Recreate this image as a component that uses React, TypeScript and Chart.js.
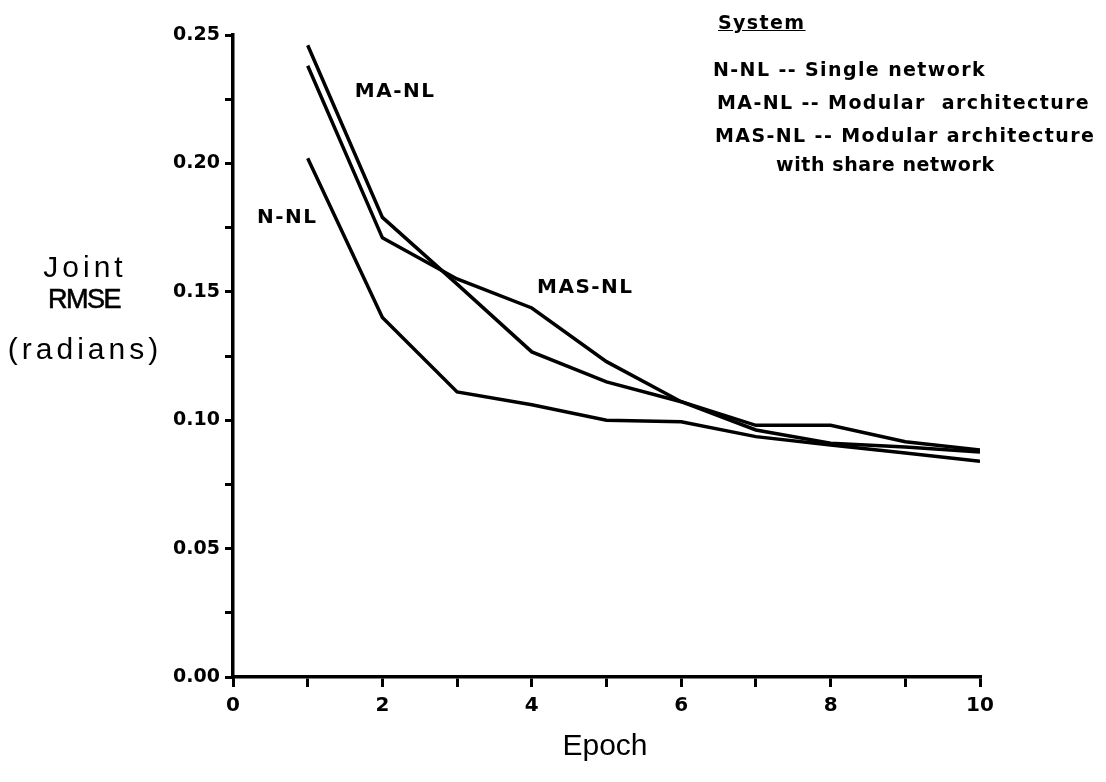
import React, { useEffect, useRef } from "react";
import { Chart, registerables } from "chart.js";

Chart.register(...registerables);

const epochs = [1, 2, 3, 4, 5, 6, 7, 8, 9, 10];
const nNL = [0.202, 0.14, 0.111, 0.106, 0.1, 0.0994, 0.0936, 0.0903, 0.0872, 0.084];
const maNL = [0.246, 0.179, 0.153, 0.1266, 0.1149, 0.1072, 0.0962, 0.091, 0.0896, 0.0876];
const masNL = [0.238, 0.171, 0.155, 0.1437, 0.1228, 0.1072, 0.098, 0.098, 0.0916, 0.0884];

const seriesNames = ["N-NL", "MA-NL", "MAS-NL"];
const seriesLabelX = [0.32, 1.63, 4.07];
const seriesLabelY = [0.179, 0.228, 0.1515];

const legendTitle = "System";
const legendLines = [
  "N-NL -- Single network",
  "MA-NL -- Modular  architecture",
  "MAS-NL -- Modular architecture",
  "with share network",
];

const xTitle = "Epoch";
const yTitleLines = ["Joint", "RMSE", "(radians)"];

const xTickFont = { family: "'DejaVu Sans'", weight: "bold" as const, size: 20 };
const yTickFont = { family: "'DejaVu Sans'", weight: "bold" as const, size: 19 };

const labelPlugin = {
  id: "seriesLabels",
  afterDatasetsDraw(chart: any) {
    const { ctx, scales } = chart;
    ctx.save();
    ctx.fillStyle = "#000";
    ctx.font = "bold 20px 'DejaVu Sans'";
    try {
      (ctx as any).letterSpacing = "1.5px";
    } catch (e) {}
    ctx.textAlign = "left";
    ctx.textBaseline = "middle";
    seriesNames.forEach((name, i) => {
      ctx.fillText(
        name,
        scales.x.getPixelForValue(seriesLabelX[i]),
        scales.y.getPixelForValue(seriesLabelY[i])
      );
    });
    ctx.restore();
  },
};

export default function App() {
  const canvasRef = useRef<HTMLCanvasElement | null>(null);

  useEffect(() => {
    if (!canvasRef.current) return;
    const mk = (arr: number[]) => epochs.map((e, i) => ({ x: e, y: arr[i] }));
    const lineStyle = {
      borderColor: "#000",
      backgroundColor: "#000",
      borderWidth: 3.5,
      pointRadius: 0,
      tension: 0,
      fill: false,
    };
    const chart = new Chart(canvasRef.current, {
      type: "line",
      data: {
        datasets: [
          { label: seriesNames[0], data: mk(nNL), ...lineStyle },
          { label: seriesNames[1], data: mk(maNL), ...lineStyle },
          { label: seriesNames[2], data: mk(masNL), ...lineStyle },
        ],
      },
      options: {
        responsive: false,
        animation: false,
        layout: { padding: { top: 35, right: 126, left: 0, bottom: 0 } },
        plugins: { legend: { display: false }, tooltip: { enabled: false } },
        scales: {
          x: {
            type: "linear",
            min: 0,
            max: 10,
            ticks: {
              stepSize: 1,
              autoSkip: false,
              maxRotation: 0,
              color: "#000",
              font: xTickFont,
              padding: 7,
              callback: (v: any) => (Number(v) % 2 === 0 ? String(v) : ""),
            },
            grid: {
              drawOnChartArea: false,
              drawTicks: true,
              tickLength: 10,
              color: "#000",
              lineWidth: 3,
            },
            border: { color: "#000", width: 3.5 },
            afterFit: (s: any) => {
              s.height = 105;
            },
          },
          y: {
            type: "linear",
            min: 0,
            max: 0.25,
            ticks: {
              stepSize: 0.025,
              autoSkip: false,
              color: "#000",
              font: yTickFont,
              padding: 5,
              callback: (v: any) => {
                const r = Number(v) / 0.05;
                return Math.abs(r - Math.round(r)) < 1e-6 ? Number(v).toFixed(2) : "";
              },
            },
            grid: {
              drawOnChartArea: false,
              drawTicks: true,
              tickLength: 8,
              color: "#000",
              lineWidth: 3,
            },
            border: { color: "#000", width: 3.5 },
            afterFit: (s: any) => {
              s.width = 233;
            },
          },
        },
      },
      plugins: [labelPlugin],
    } as any);
    return () => chart.destroy();
  }, []);

  const legendFont: React.CSSProperties = {
    position: "absolute",
    fontFamily: "'DejaVu Sans'",
    fontWeight: "bold",
    fontSize: 19,
    lineHeight: "22px",
    letterSpacing: "1.4px",
    whiteSpace: "pre",
    color: "#000",
  };
  const titleFont: React.CSSProperties = {
    position: "absolute",
    fontFamily: "'Liberation Sans', Arial, sans-serif",
    color: "#000",
    whiteSpace: "pre",
    textAlign: "center",
  };

  return (
    <div style={{ position: "absolute", left: 0, top: 0, width: 1106, height: 782, background: "#fff", overflow: "hidden" }}>
      <canvas ref={canvasRef} width={1106} height={782} style={{ position: "absolute", left: 0, top: 0 }} />
      <div style={{ ...legendFont, left: 718, top: 11, textDecoration: "underline" }}>{legendTitle}</div>
      <div style={{ ...legendFont, left: 713, top: 58 }}>{legendLines[0]}</div>
      <div style={{ ...legendFont, left: 717, top: 91 }}>{legendLines[1]}</div>
      <div style={{ ...legendFont, left: 715, top: 124 }}>{legendLines[2]}</div>
      <div style={{ ...legendFont, left: 776, top: 153, letterSpacing: "0.6px" }}>{legendLines[3]}</div>

      <div style={{ ...titleFont, left: 0, width: 170, top: 252, fontSize: 30, lineHeight: "30px", letterSpacing: "4px" }}>{yTitleLines[0]}</div>
      <div style={{ ...titleFont, left: 0, width: 168, top: 286, fontSize: 27, lineHeight: "27px", letterSpacing: "-1.5px", fontWeight: 500, WebkitTextStroke: "0.6px #000" }}>{yTitleLines[1]}</div>
      <div style={{ ...titleFont, left: 0, width: 170, top: 334, fontSize: 30, lineHeight: "30px", letterSpacing: "4px" }}>{yTitleLines[2]}</div>

      <div style={{ ...titleFont, left: 505, width: 200, top: 730, fontSize: 30, lineHeight: "30px" }}>{xTitle}</div>
    </div>
  );
}
